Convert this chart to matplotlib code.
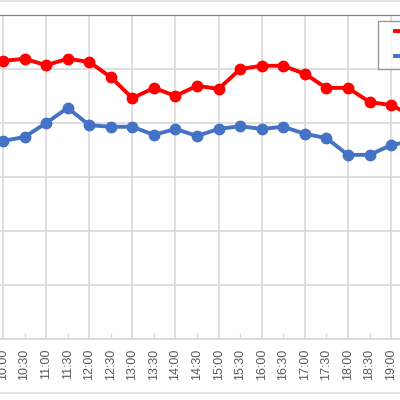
import matplotlib
matplotlib.use("Agg")
import matplotlib.pyplot as plt
from matplotlib.lines import Line2D
from matplotlib.legend_handler import HandlerLine2D

times = ["10:00", "10:30", "11:00", "11:30", "12:00", "12:30", "13:00", "13:30",
         "14:00", "14:30", "15:00", "15:30", "16:00", "16:30", "17:00", "17:30",
         "18:00", "18:30", "19:00", "19:30"]
red_vals = [51.5, 51.9, 50.7, 51.9, 51.3, 48.5, 44.6, 46.5, 45.0, 46.9,
            46.3, 50.0, 50.6, 50.6, 49.1, 46.5, 46.5, 43.9, 43.3, 41.3]
blue_vals = [36.7, 37.4, 40.0, 42.8, 39.6, 39.3, 39.3, 37.8, 38.9, 37.6,
             38.9, 39.4, 38.9, 39.3, 38.0, 37.2, 34.1, 34.1, 35.9, 36.7]
series_names = ["Series1", "Series2"]

plt.rcParams["font.family"] = ["Liberation Sans", "DejaVu Sans"]

fig = plt.figure(figsize=(4, 4), dpi=100)
ax = fig.add_axes([0, 61 / 400, 1, 324 / 400])

x = list(range(len(times)))
ax.plot(x, red_vals, color="#FF0000", lw=2.8, marker="o", ms=7.5, label=series_names[0], zorder=3)
ax.plot(x, blue_vals, color="#4472C4", lw=2.8, marker="o", ms=7.5, label=series_names[1], zorder=3)

even = x[::2]
odd = x[1::2]
ax.set_xticks(even, labels=[times[i] for i in even])
ax.set_xticks(odd, labels=[times[i] for i in odd], minor=True)
ax.tick_params(axis="x", which="major", length=0, pad=7, labelrotation=90,
               labelsize=9, labelcolor="#595959")
ax.tick_params(axis="x", which="minor", length=4, width=1, direction="in",
               color="#d9d9d9", pad=7, labelrotation=90, labelsize=9, labelcolor="#595959")
ax.set_yticks(range(0, 61, 10))
ax.tick_params(axis="y", left=False, labelleft=False)

# the picture is a crop: 10:00 sits 3 px from the left edge, 19:00 near the right
step = 21.56
ax.set_xlim(-3 / step, 397 / step)
ax.set_ylim(0, 60)

ax.grid(True, which="major", color="#d9d9d9", lw=1.2)
ax.set_axisbelow(True)

for side in ["left", "right"]:
    ax.spines[side].set_visible(False)
ax.spines["bottom"].set_color("#d9d9d9")
ax.spines["bottom"].set_linewidth(1.2)
ax.spines["top"].set_color("#808080")
ax.spines["top"].set_linewidth(0.9)

leg = ax.legend(loc="upper left", bbox_to_anchor=(378 / 400, 1 - 21 / 400),
                bbox_transform=fig.transFigure, fontsize=9, frameon=True, fancybox=False,
                borderpad=0.45, labelspacing=1.0, handlelength=3.5, borderaxespad=0,
                handler_map={Line2D: HandlerLine2D(xpad=0.9)})
leg.get_frame().set_edgecolor("#808080")
leg.get_frame().set_linewidth(1.0)

fig.add_artist(Line2D([0, 1], [1 - 1 / 400, 1 - 1 / 400], color="#e0e0e0", lw=1.2))
fig.add_artist(Line2D([0, 1], [1 - 393 / 400, 1 - 393 / 400], color="#e0e0e0", lw=1.2))

fig.savefig("out.png", dpi=100)
